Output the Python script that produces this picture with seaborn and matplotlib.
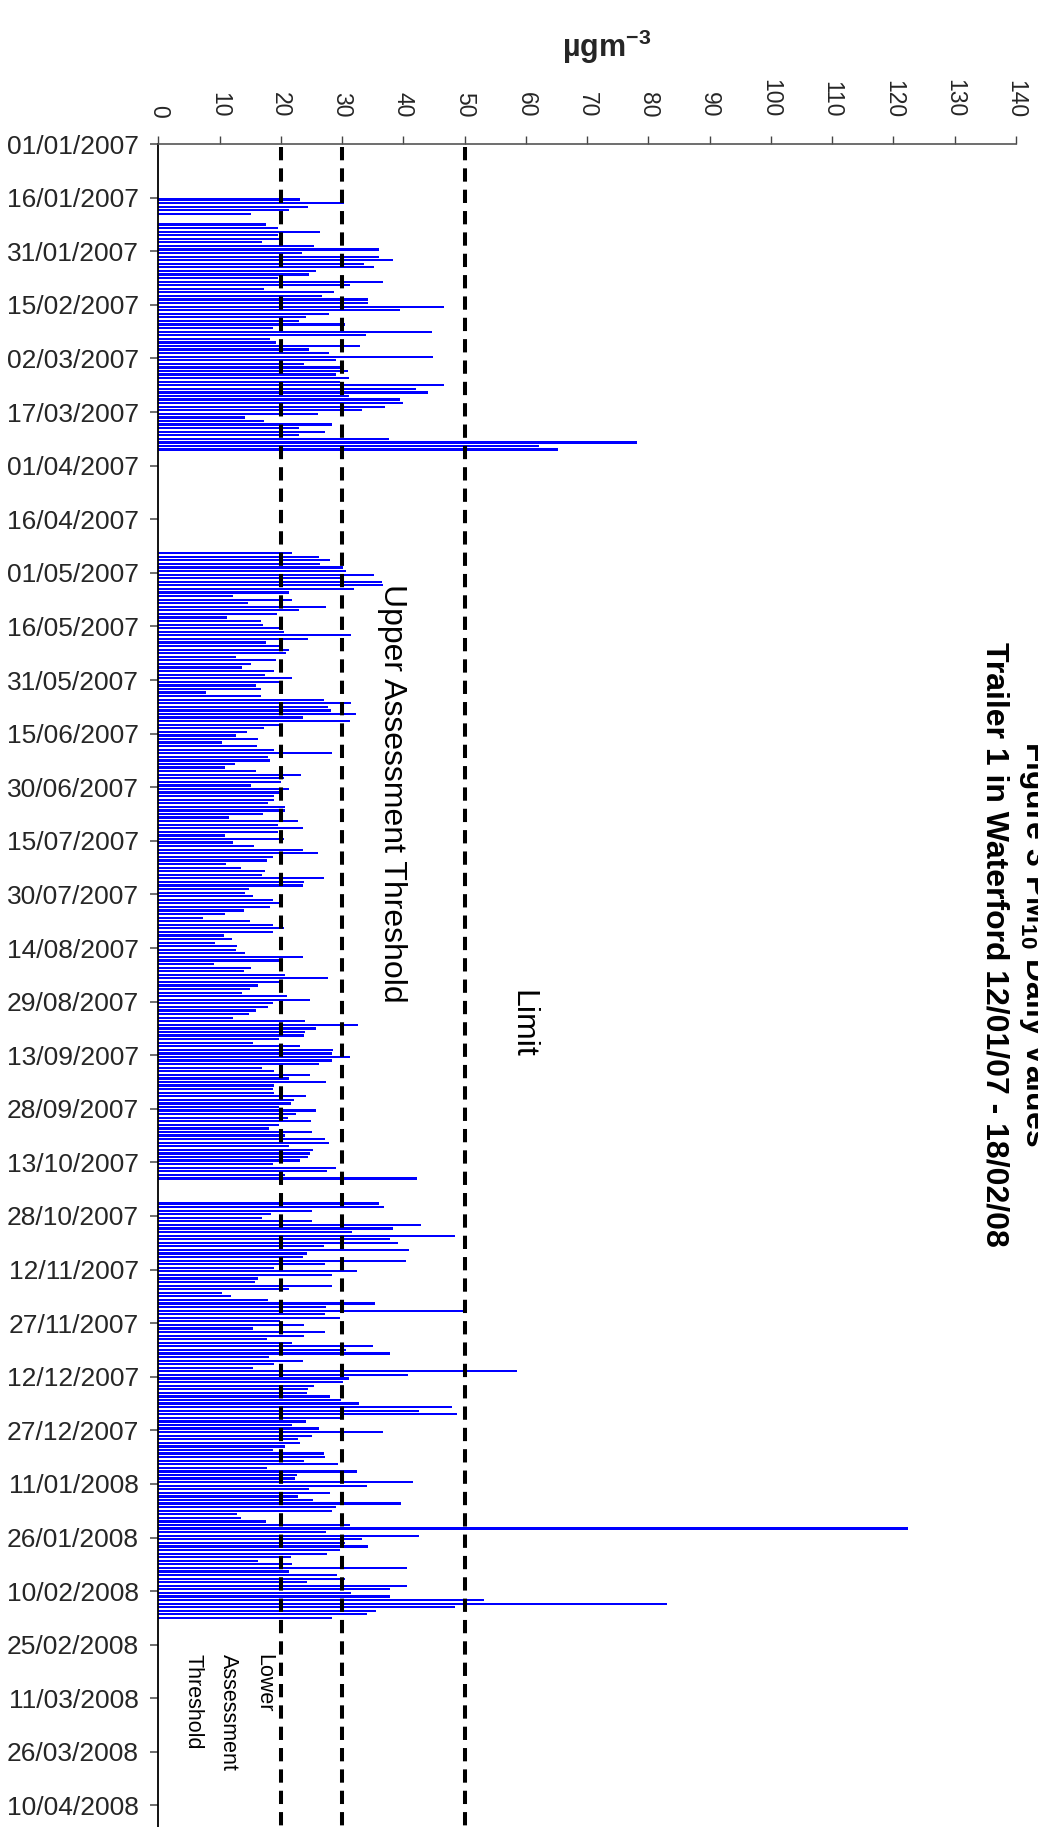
import pandas as pd
import matplotlib
matplotlib.use("Agg")
import matplotlib.pyplot as plt
import seaborn as sns

# Daily PM10 means (µg/m³), one list per continuous run of monitoring
run1_start = "2007-01-16"
run1_pm10 = [23.1, 30.3, 24.4, 21.3, 15.1]

run2_start = "2007-01-23"
run2_pm10 = [17.6, 19.5, 26.4, 19.5, 20.2, 16.9, 25.4, 36.1, 23.4, 36.1,
             38.3, 33.5, 35.2, 25.7, 24.6, 19.5, 36.6, 31.3, 17.2, 28.6,
             26.8, 34.3, 34.2, 46.6, 39.4, 27.8, 24.1, 22.9, 30.4, 18.7,
             44.6, 33.9, 18.2, 19.2, 33.0, 24.6, 27.8, 44.9, 29.0, 23.8,
             29.6, 30.9, 29.0, 31.1, 29.6, 46.7, 42.0, 44.1, 31.1, 39.4,
             39.9, 37.0, 33.2, 26.0, 14.1, 17.2, 28.3, 22.9, 27.2, 22.9,
             37.6, 78.1, 62.1, 65.2]

run3_start = "2007-04-25"
run3_pm10 = [21.8, 26.2, 28.0, 26.4, 30.1, 30.6, 35.2, 29.9, 36.5, 36.6,
             31.9, 21.3, 12.2, 21.8, 14.6, 27.3, 22.9, 19.3, 11.2, 16.7,
             17.1, 19.8, 20.5, 31.4, 24.4, 17.6, 19.8, 21.3, 20.8, 12.7,
             19.2, 15.1, 13.6, 18.9, 17.4, 21.8, 19.7, 15.9, 16.7,
             7.8, 16.7, 27.0, 31.4, 27.7, 28.2, 32.2, 23.6, 31.3, 19.7,
             17.2, 14.5, 12.7, 16.3, 10.4, 16.1, 18.9, 28.3, 17.9, 18.2,
             12.5, 10.9, 15.9, 23.3, 20.5, 20.0, 15.1,
             21.3, 19.8, 18.9, 18.9, 17.9, 20.7, 20.7, 17.1, 11.5, 22.8,
             19.5, 23.6, 19.5, 10.9, 20.5, 12.2, 15.6, 23.7, 26.0, 18.7,
             17.7, 11.0, 13.5, 17.4,
             16.9, 27.0, 23.8, 23.6, 14.8, 14.1, 15.4, 18.7, 20.3, 18.2,
             14.0, 10.9, 7.3, 14.9, 18.7, 20.5, 18.7, 10.7, 12.0, 9.2,
             12.8, 12.7, 14.1, 23.6, 19.7, 9.1, 15.1, 14.0, 20.7, 27.7,
             20.3, 16.3, 14.9, 13.6, 21.0, 24.7, 18.7, 17.9, 15.9, 14.8,
             12.2, 23.9, 32.6, 25.7, 23.9, 23.8, 19.7, 15.4, 23.1, 28.5,
             28.3, 31.3,
             28.3, 26.2, 16.9, 18.9, 24.7, 21.3, 27.3, 18.9, 18.7, 18.9,
             24.1, 22.1, 21.6, 19.7, 25.7, 22.4, 21.1, 24.9, 19.7, 18.0,
             25.1, 20.7, 27.2, 27.8, 21.3, 25.2, 24.7, 24.4, 23.1, 18.7,
             29.0, 27.5, 20.7, 42.3]

run4_start = "2007-10-24"
run4_pm10 = [36.1, 36.8, 25.1, 18.4, 16.9, 25.1, 42.8, 38.3, 31.6, 48.5,
             37.9, 39.1, 27.0, 40.9, 24.2, 23.6, 40.4, 27.2, 18.9, 32.4,
             28.3, 16.3, 15.8, 28.3, 21.3, 10.4, 11.8, 17.9, 35.3, 27.3,
             49.7, 27.2, 29.6, 19.8, 23.8, 15.4, 27.2, 23.8, 17.7, 21.8,
             35.0, 30.6, 37.8, 18.0, 23.6, 18.9, 15.4, 58.6, 40.7, 31.1,
             30.1, 25.4, 24.4, 24.2, 28.0, 29.9, 32.7, 48.0, 42.5, 48.7,
             29.9, 24.1,
             21.8, 26.3, 36.7, 25.1, 22.8, 23.1, 20.6, 18.8, 27.0, 27.2,
             23.8, 29.3, 17.7, 32.4, 22.6, 22.3, 41.5, 34.0, 24.6, 28.1,
             22.8, 25.2, 39.6, 29.0, 28.3, 12.8, 13.5, 17.6, 31.3, 122.3,
             27.4, 42.6, 33.2, 30.4, 34.2, 29.6, 27.6, 21.7, 16.3, 21.8,
             40.6, 21.3, 29.2, 30.4, 24.2, 40.6, 37.8, 31.5, 37.8, 53.1,
             83.1, 48.5, 35.6, 34.0, 28.3]

axis_start = "2007-01-01"
axis_end = "2008-04-10"
date_tick_step = 15  # days between date labels
value_ticks = list(range(0, 141, 10))

lower_threshold = 20
upper_threshold = 30
limit_value = 50

title_line1 = "Figure 3 PM$_{\\mathbf{10}}$ Daily Values"
title_line2 = "Trailer 1 in Waterford 12/01/07 - 18/02/08"
unit_label = "µgm$^{\\mathbf{-3}}$"

# ---------------------------------------------------------------------------
origin = pd.Timestamp(axis_start)
frames = []
for start, vals in [(run1_start, run1_pm10), (run2_start, run2_pm10),
                    (run3_start, run3_pm10), (run4_start, run4_pm10)]:
    dates = pd.date_range(start, periods=len(vals), freq="D")
    frames.append(pd.DataFrame({"date": dates, "pm10": vals}))
df = pd.concat(frames, ignore_index=True)
# each day occupies the interval [day, day + 1) on the date axis
df["day"] = (df["date"] - origin).dt.days + 0.5

tick_dates = pd.date_range(axis_start, axis_end, freq=f"{date_tick_step}D")
tick_days = [(d - origin).days for d in tick_dates]
tick_labels = [d.strftime("%d/%m/%Y") for d in tick_dates]

sns.set_theme(style="white")
plt.rcParams["font.family"] = ["Liberation Sans", "DejaVu Sans"]
plt.rcParams["mathtext.fontset"] = "custom"
plt.rcParams["mathtext.rm"] = "Liberation Sans"
plt.rcParams["mathtext.bf"] = "Liberation Sans:bold"

W, H = 1038, 1827
fig = plt.figure(figsize=(W / 100, H / 100), dpi=100)
fig.patch.set_facecolor("white")


def fx(x):
    return x / W


def fy(y):
    return 1 - y / H


ax_left, ax_right, ax_top = 158.3, 1016.0, 144.1
ax = fig.add_axes([fx(ax_left), 0.0, fx(ax_right) - fx(ax_left), fy(ax_top)])

sns.barplot(data=df, x="pm10", y="day", orient="h", native_scale=True,
            color="#0000FF", saturation=1, width=0.62, linewidth=0,
            errorbar=None, ax=ax)

last_day = (H - ax_top) / ((1805.5 - ax_top) / (pd.Timestamp(axis_end) - origin).days)
ax.set_xlim(0, 140)
ax.set_ylim(last_day, 0)

dash = dict(color="black", linewidth=2.9, linestyle=(0, (3.3, 2.0)), zorder=3)
for v in (lower_threshold, upper_threshold, limit_value):
    ax.plot([v, v], [0.8, last_day], **dash)

# value axis along the top, labels reading downwards
ax.xaxis.tick_top()
ax.set_xticks(value_ticks)
ax.set_xticklabels([str(v) for v in value_ticks], rotation=-90,
                   fontsize=16.5)
ax.tick_params(axis="x", direction="out", length=6, width=1,
               color="#444444", pad=13)

ax.set_yticks(tick_days)
ax.set_yticklabels(tick_labels, fontsize=19)
ax.tick_params(axis="y", direction="out", length=6, width=1.2,
               color="#555555", pad=8, left=True)
ax.set_xlabel("")
ax.set_ylabel("")

for side in ("right", "bottom"):
    ax.spines[side].set_visible(False)
ax.spines["left"].set_color("black")
ax.spines["left"].set_linewidth(1.3)
ax.spines["top"].set_color("#555555")
ax.spines["top"].set_linewidth(1.2)
ax.grid(False)

# threshold annotations
txt = dict(rotation=-90, rotation_mode="anchor", color="black")
fig.text(fx(384), fy(793), "Upper Assessment Threshold", ha="center",
         va="baseline", fontsize=23, **txt)
fig.text(fx(514), fy(1024), "Limit", ha="center", va="baseline",
         fontsize=23, **txt)
for xb, line in [(258, "Lower"), (223, "Assessment"), (188, "Threshold")]:
    fig.text(fx(xb), fy(1654), line, ha="left", va="baseline",
             fontsize=15.5, **txt)

# titles and unit
fig.text(fx(987), fy(944), title_line2, ha="center", va="baseline",
         fontsize=23, fontweight="bold", **txt)
fig.text(fx(1026), fy(944), title_line1, ha="center", va="baseline",
         fontsize=23, fontweight="bold", **txt)
fig.text(fx(607), fy(47), unit_label, ha="center", va="center",
         fontsize=22, fontweight="bold")

fig.savefig("out.png", dpi=100, facecolor="white")
